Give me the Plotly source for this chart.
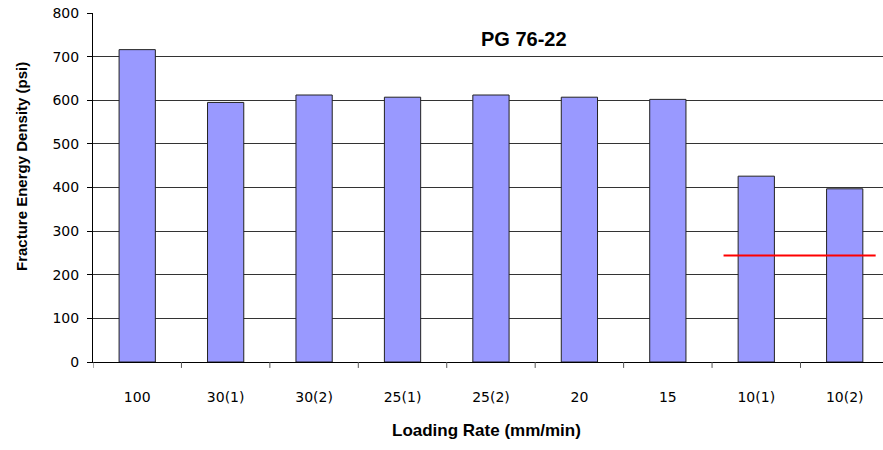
import plotly.graph_objects as go

categories = ["100", "30(1)", "30(2)", "25(1)", "25(2)", "20", "15", "10(1)", "10(2)"]
energy = [716, 595, 612, 607, 612, 607, 602, 426, 397]
threshold_value = 244
threshold_span = [6.63, 8.35]  # category-index positions of the red reference line
y_ticks = [0, 100, 200, 300, 400, 500, 600, 700, 800]

FONT = "Liberation Sans, Arial, sans-serif"
TICKFONT = "DejaVu Sans, sans-serif"

L, R, T, B = 93, 0, 13, 88
W, H = 883, 450
PW, PH = W - L - R, H - T - B

def px_x(px):
    return (px - L) / PW

def px_y(py):
    return (H - B - py) / PH

fig = go.Figure()
fig.add_trace(go.Bar(
    x=list(range(len(categories))),
    y=energy,
    marker=dict(color="#9999FF", line=dict(color="#222222", width=1)),
    width=0.41,
    hoverinfo="skip",
))

fig.add_shape(type="line", xref="x", yref="y",
              x0=threshold_span[0], x1=threshold_span[1],
              y0=threshold_value, y1=threshold_value,
              line=dict(color="#FF0000", width=2))

fig.add_annotation(text="<b>PG 76-22</b>", xref="paper", yref="paper",
                   x=px_x(524), y=px_y(39),
                   showarrow=False, font=dict(family=FONT, size=20, color="black"),
                   xanchor="center", yanchor="middle")

fig.add_annotation(text="<b>Loading Rate (mm/min)</b>", xref="paper", yref="paper",
                   x=px_x(486), y=px_y(430),
                   showarrow=False, font=dict(family=FONT, size=17, color="black"),
                   xanchor="center", yanchor="middle")

fig.add_annotation(text="<b>Fracture Energy Density (psi)</b>", xref="paper", yref="paper",
                   x=px_x(21), y=px_y(167), textangle=-90,
                   showarrow=False, font=dict(family=FONT, size=15, color="black"),
                   xanchor="center", yanchor="middle")

fig.update_layout(
    width=W, height=H,
    margin=dict(l=L, r=R, t=T, b=B),
    plot_bgcolor="white", paper_bgcolor="white",
    showlegend=False,
    font=dict(family=FONT, size=13, color="black"),
    xaxis=dict(
        range=[-0.5, 8.433],
        tickmode="array",
        tickvals=list(range(len(categories))),
        ticktext=categories,
        showgrid=False,
        showline=True, linecolor="black", linewidth=1,
        ticks="",
        tickfont=dict(family=TICKFONT, size=14),
        ticklabelstandoff=22,
        zeroline=False,
    ),
    yaxis=dict(
        range=[0, 800],
        tickmode="array", tickvals=y_ticks,
        showgrid=True, gridcolor="#333333", gridwidth=1,
        showline=True, linecolor="black", linewidth=1,
        ticks="outside", ticklen=5, tickcolor="black",
        tickfont=dict(family=TICKFONT, size=14),
        ticklabelstandoff=5,
        zeroline=False,
    ),
)

# category-boundary tick marks on the x axis
for i in range(len(categories) + 1):
    xb = i - 0.5
    if xb > 8.433:
        continue
    fig.add_shape(type="line", xref="x", yref="paper", x0=xb, x1=xb,
                  y0=0, y1=-0.017, line=dict(color="#555555", width=1))

fig.write_html("out.html")
